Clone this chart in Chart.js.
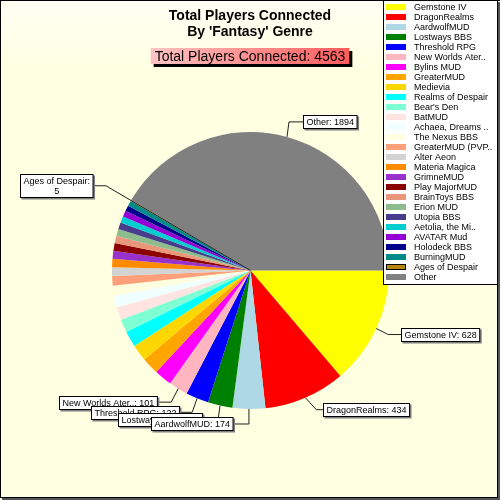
<!DOCTYPE html>
<html>
<head>
<meta charset="utf-8">
<script src="https://cdn.jsdelivr.net/npm/chart.js@4"></script>
<style>
html,body{margin:0;padding:0;background:#fff;}
#wrap{position:relative;width:500px;height:500px;}
canvas{display:block;}
</style>
</head>
<body>
<div id="wrap"><canvas id="c" width="500" height="500"></canvas></div>
<script>
// ---- data ----
const categories = ["Gemstone IV","DragonRealms","AardwolfMUD","Lostways BBS","Threshold RPG","New Worlds Ater..","Bylins MUD","GreaterMUD","Medievia","Realms of Despair","Bear's Den","BatMUD","Achaea, Dreams ..","The Nexus BBS","GreaterMUD (PVP..","Alter Aeon","Materia Magica","GrimneMUD","Play MajorMUD","BrainToys BBS","Erion MUD","Utopia BBS","Aetolia, the Mi..","AVATAR Mud","Holodeck BBS","BurningMUD","Ages of Despair","Other"];
const players = [628,434,174,131,122,101,94,91,88,85,70,68,62,54,50,47,44,42,41,39,37,36,35,32,30,29,5,1894];
const sliceColors = ["#ffff00","#ff0000","#add8e6","#008000","#0000ff","#ffb6c1","#ff00ff","#ffa500","#ffd700","#00ffff","#7fffd4","#ffe4e1","#f0ffff","#ffffe0","#ffa07a","#d3d3d3","#ff8c00","#9932cc","#8b0000","#e9967a","#8fbc8f","#483d8b","#00ced1","#9400d3","#00008b","#008b8b","#b8860b","#808080"];
const titleLines = ["Total Players Connected","By 'Fantasy' Genre"];
const totalLabel = "Total Players Connected: ";
const calloutIndices = [5,4,3,2,1,0,27,26];

// leader geometry for callouts (elbow offset from rim anchor, run direction/length)
const leaderStyle = {
  0:{elbow:[12,6],dir:1,run:13},
  1:{elbow:[11,12],dir:1,run:7},
  2:{elbow:[0,15],dir:-1,run:16},
  3:{elbow:[-2,14],dir:-1,run:16},
  4:{elbow:[-5,14],dir:-1,run:13},
  5:{elbow:[-7,13.5],dir:-1,run:14},
  27:{elbow:[2,-15],dir:1,run:14},
  26:{radial:1.21,fromCenter:true,dir:-1,run:13}
};
const FONT = '"Liberation Sans", Arial, sans-serif';

const total = players.reduce((a,b)=>a+b,0);

const decor = {
  id:'decor',
  beforeDraw(chart){
    const ctx = chart.ctx;
    ctx.save();
    const g = ctx.createLinearGradient(0,0,0,70);
    g.addColorStop(0,'#fffff4');
    g.addColorStop(1,'#ffffe2');
    ctx.fillStyle = g;
    ctx.fillRect(0,0,500,500);
    ctx.restore();
  },
  afterDraw(chart){
    const ctx = chart.ctx;
    const meta = chart.getDatasetMeta(0);
    ctx.save();
    // title
    ctx.fillStyle = '#000';
    ctx.font = 'bold 14px ' + FONT;
    ctx.textAlign = 'center';
    ctx.textBaseline = 'alphabetic';
    ctx.fillText(titleLines[0], 250, 20);
    ctx.fillText(titleLines[1], 250, 36);
    // total box
    ctx.font = '14px ' + FONT;
    const tt = totalLabel + total;
    const tw = ctx.measureText(tt).width;
    const bx = 250 - tw/2 - 4, by = 48, bw = tw + 8, bh = 16;
    ctx.fillStyle = '#000';
    ctx.fillRect(bx+3, by+3, bw, bh);
    const bg = ctx.createLinearGradient(bx,0,bx+bw,0);
    bg.addColorStop(0,'#ffc4c4');
    bg.addColorStop(1,'#ff5c5c');
    ctx.fillStyle = bg;
    ctx.fillRect(bx, by, bw, bh);
    ctx.fillStyle = '#000';
    ctx.fillText(tt, 250, 61);

    // callouts
    ctx.font = '9px ' + FONT;
    ctx.textAlign = 'left';
    for (const i of calloutIndices){
      const arc = meta.data[i];
      const p = arc.getProps(['x','y','startAngle','endAngle','outerRadius'], true);
      const mid = (p.startAngle + p.endAngle)/2;
      const st = leaderStyle[i];
      let ax, ay, ex, ey;
      if (st.fromCenter){
        ax = p.x; ay = p.y;
        ex = p.x + Math.cos(mid)*p.outerRadius*st.radial;
        ey = p.y + Math.sin(mid)*p.outerRadius*st.radial;
      } else {
        ax = p.x + Math.cos(mid)*p.outerRadius;
        ay = p.y + Math.sin(mid)*p.outerRadius;
        ex = ax + st.elbow[0]; ey = ay + st.elbow[1];
      }
      const hx = ex + st.dir*st.run;
      ctx.strokeStyle = '#222';
      ctx.lineWidth = 1;
      ctx.beginPath();
      ctx.moveTo(ax, ay); ctx.lineTo(ex, ey); ctx.lineTo(hx, ey);
      ctx.stroke();
      let lines;
      if (i === 26) lines = [categories[i] + ':', String(players[i])];
      else lines = [categories[i] + ': ' + players[i]];
      const w = Math.max(...lines.map(l=>ctx.measureText(l).width)) + 6;
      const h = lines.length*10 + 3;
      const left = st.dir > 0 ? hx : hx - w;
      const top = Math.round(ey - h/2) + 0.5;
      const L = Math.round(left) + 0.5;
      ctx.fillStyle = '#808080';
      ctx.fillRect(L+1, top+1, w+1, h+1);
      ctx.fillStyle = '#fff';
      ctx.fillRect(L, top, w, h);
      ctx.strokeStyle = '#000';
      ctx.strokeRect(L, top, w, h);
      ctx.fillStyle = '#000';
      ctx.textAlign = lines.length > 1 ? 'center' : 'left';
      lines.forEach((l, k)=>{
        const tx = lines.length > 1 ? L + w/2 : L + 3;
        ctx.fillText(l, tx, top + 9.5 + k*10);
      });
      ctx.textAlign = 'left';
    }

    // legend
    ctx.fillStyle = '#fff';
    ctx.fillRect(383.5, 0.5, 120, 284);
    ctx.strokeStyle = '#000';
    ctx.strokeRect(383.5, 0.5, 120, 284);
    ctx.font = '9px ' + FONT;
    ctx.textBaseline = 'middle';
    categories.forEach((name, i)=>{
      const cy = 7 + i*10;
      ctx.fillStyle = sliceColors[i];
      ctx.fillRect(386, cy-3, 20, 6);
      if (i === 26){
        ctx.strokeStyle = '#000';
        ctx.strokeRect(386.5, cy-2.5, 19, 5);
      }
      ctx.fillStyle = '#000';
      ctx.fillText(name, 414, cy+0.5);
    });

    // frame
    ctx.strokeStyle = '#000';
    ctx.lineWidth = 1;
    ctx.strokeRect(0.5, 0.5, 497, 497);
    ctx.fillStyle = '#555';
    ctx.fillRect(498, 2, 2, 498);
    ctx.fillRect(2, 498, 498, 2);
    ctx.restore();
  }
};

new Chart(document.getElementById('c'), {
  type: 'pie',
  data: {
    labels: categories,
    datasets: [{
      data: players,
      backgroundColor: sliceColors,
      borderWidth: 0
    }]
  },
  options: {
    responsive: false,
    animation: false,
    rotation: 90,
    layout: { padding: { left: 112, top: 132, right: 111, bottom: 91 } },
    plugins: { legend: { display: false }, tooltip: { enabled: false }, title: { display: false } }
  },
  plugins: [decor]
});
</script>
</body>
</html>
